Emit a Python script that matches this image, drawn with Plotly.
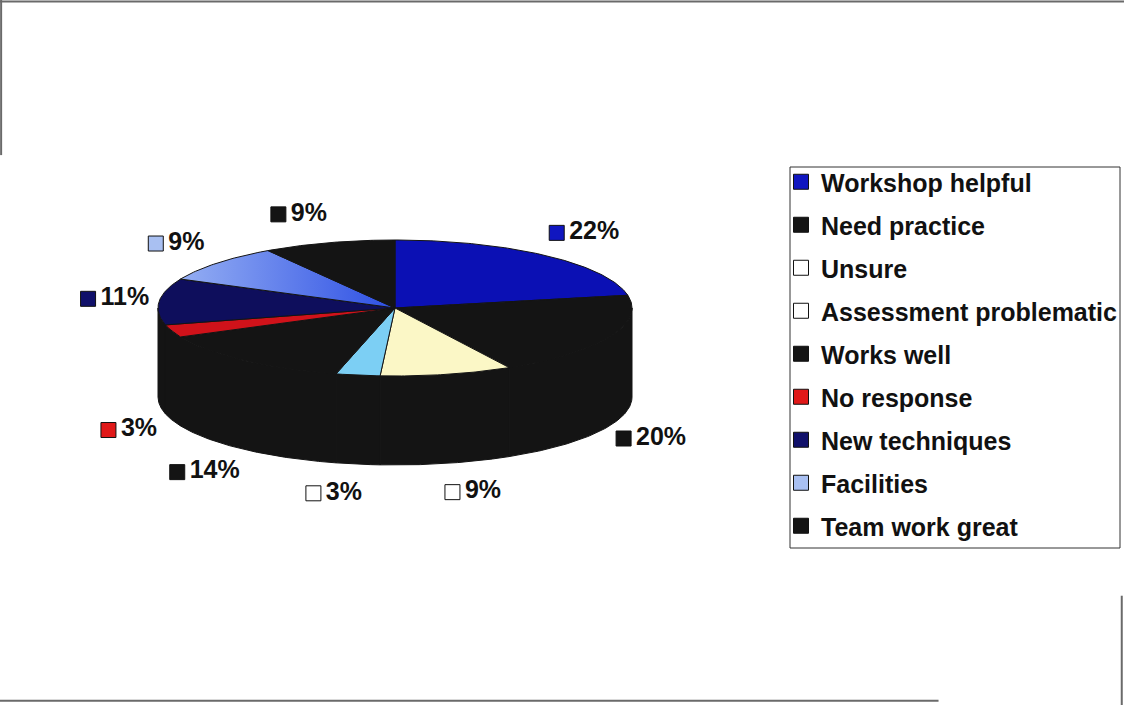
import numpy as np
import plotly.graph_objects as go

# Survey responses (share of answers, %)
categories = ["Workshop helpful", "Need practice", "Unsure", "Assessment problematic",
              "Works well", "No response", "New techniques", "Facilities", "Team work great"]
percent = [22, 20, 9, 3, 14, 3, 11, 9, 9]

# slice colours on the disc, and colours of the key squares
face_colors = ["#0b10b4", "#141414", "#fbf7c6", "#7ccff4", "#141414",
               "#d0121a", "#0e0e5c", "#6f8fec", "#141414"]
key_colors = ["#1016c0", "#141414", "#ffffff", "#ffffff", "#141414",
              "#e01818", "#10106a", "#a9c0f2", "#141414"]
wall_color = "#141414"

# tilted disc geometry (one data unit = one pixel)
CX, CY = 395, 308
RX, RY = 237, 68
DEPTH = 89
LABEL_RX, LABEL_PUSH, LABEL_RY = 210, 70, 85
FONT = "Liberation Sans, Arial, sans-serif"
LABEL_SIZE = 25
MARKER = 15

total = float(sum(percent))
bounds = np.concatenate([[0.0], np.cumsum(percent)]) / total * 360.0


def rim(t_deg, drop=0.0):
    t = np.radians(t_deg)
    return CX + RX * np.sin(t), CY - RY * np.cos(t) + drop


fig = go.Figure()

# front wall of the disc (visible between 90 and 270 degrees)
for i in range(len(percent)):
    a0, a1 = max(bounds[i], 90.0), min(bounds[i + 1], 270.0)
    if a1 <= a0:
        continue
    t = np.linspace(a0, a1, 80)
    xt, yt = rim(t)
    xb, yb = rim(t[::-1], DEPTH)
    fig.add_trace(go.Scatter(
        x=np.r_[xt, xb, xt[:1]], y=np.r_[yt, yb, yt[:1]],
        mode="lines", fill="toself", fillcolor=wall_color,
        line=dict(color=wall_color, width=1),
        hoverinfo="skip", showlegend=False))

# top face slices
for i, (name, p) in enumerate(zip(categories, percent)):
    t = np.linspace(bounds[i], bounds[i + 1], max(6, int(p * 5)))
    xs, ys = rim(t)
    extra = {}
    if name == "Facilities":
        extra["fillgradient"] = dict(type="horizontal",
                                     colorscale=[[0, "#94aef3"], [1, "#2d4fe4"]])
    fig.add_trace(go.Scatter(
        x=np.r_[CX, xs, CX], y=np.r_[CY, ys, CY],
        mode="lines", fill="toself", fillcolor=face_colors[i],
        line=dict(color="#141414", width=1),
        name=name, hovertemplate=f"{name}: {p}%<extra></extra>",
        showlegend=False, **extra))

# percentage labels around the disc, centred outside the rim along each
# slice's mid direction and pushed sideways away from the disc
texts = [f"{p}%" for p in percent]
mid = (bounds[:-1] + bounds[1:]) / 2.0
s, c = np.sin(np.radians(mid)), np.cos(np.radians(mid))
front = (mid > 90) & (mid < 270)
widths = np.array([MARKER + 6 + LABEL_SIZE * (0.556 * (len(t) - 1) + 0.889) for t in texts])
centre_x = CX + LABEL_RX * s + LABEL_PUSH * np.sign(s) * np.sqrt(np.abs(s))
centre_y = CY - LABEL_RY * c - (LABEL_SIZE / 2) * c + np.where(front, DEPTH, 0)
marker_x = centre_x - widths / 2 + MARKER / 2
fig.add_trace(go.Scatter(
    x=marker_x, y=centre_y, mode="markers+text",
    text=["\u200a" + t for t in texts], textposition="middle right",
    textfont=dict(family=FONT, size=LABEL_SIZE, color="#111111", weight="bold"),
    marker=dict(symbol="square", size=MARKER, color=key_colors,
                line=dict(color="#111111", width=1)),
    hoverinfo="skip", showlegend=False))

# legend entries
for i, name in enumerate(categories):
    fig.add_trace(go.Scatter(
        x=[None], y=[None], mode="markers", name=name, legendgroup=str(i),
        marker=dict(symbol="square", size=MARKER, color=key_colors[i],
                    line=dict(color="#111111", width=1))))

frame = dict(type="line", xref="paper", yref="paper",
             line=dict(color="#6a6a6a", width=2))
fig.update_layout(
    width=1124, height=705,
    margin=dict(l=0, r=0, t=0, b=0),
    paper_bgcolor="white", plot_bgcolor="white",
    xaxis=dict(range=[0, 1124], visible=False, fixedrange=True),
    yaxis=dict(range=[705, 0], visible=False, fixedrange=True),
    showlegend=True,
    legend=dict(x=781 / 1124, y=1 - 159 / 705, xanchor="left", yanchor="top",
                borderwidth=0, bgcolor="rgba(0,0,0,0)",
                font=dict(family=FONT, size=25, color="#111111", weight="bold"),
                itemwidth=30, traceorder="grouped", tracegroupgap=7.5),
    shapes=[
        dict(type="rect", xref="paper", yref="paper",
             x0=790 / 1124, x1=1120 / 1124, y0=1 - 548 / 705, y1=1 - 167 / 705,
             line=dict(color="#333333", width=1), layer="below"),
        dict(frame, x0=0, x1=1, y0=0.998, y1=0.998),
        dict(frame, x0=0.001, x1=0.001, y0=1, y1=0.78),
        dict(frame, x0=0, x1=0.835, y0=0.006, y1=0.006),
        dict(frame, x0=0.998, x1=0.998, y0=0.155, y1=0),
    ],
)

fig.write_html("out.html")
